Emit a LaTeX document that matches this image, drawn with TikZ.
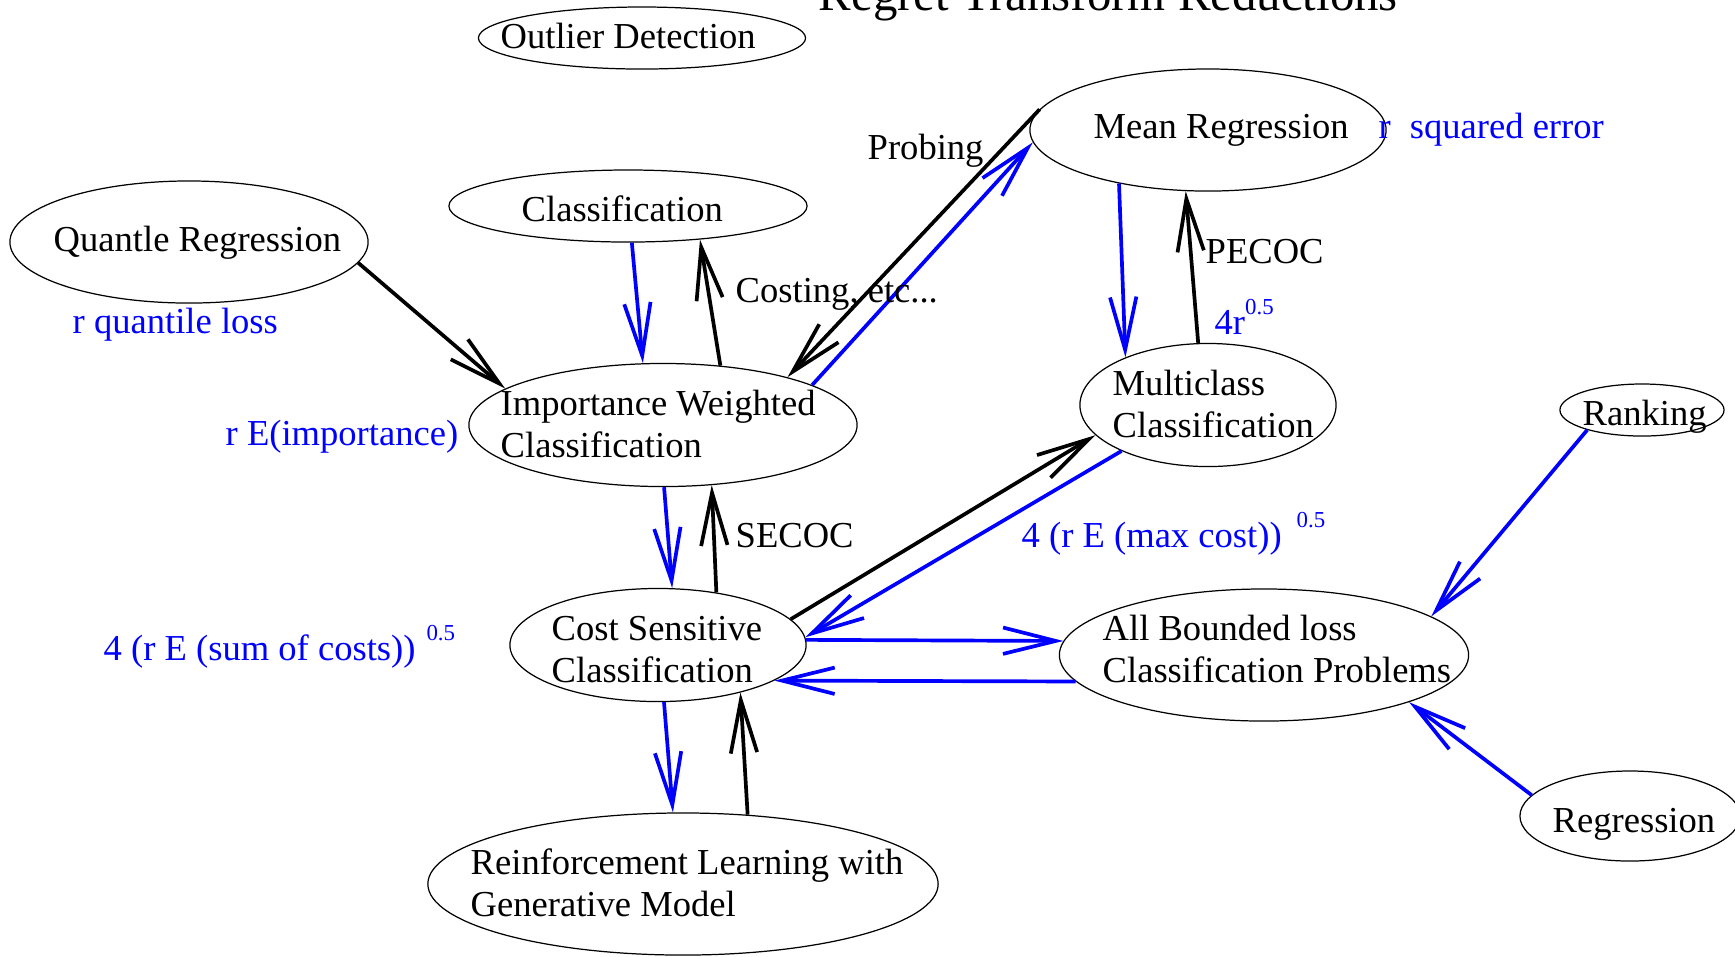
\documentclass[tikz,border=0pt]{standalone}
\usepackage{fontspec}
\setmainfont{Liberation Serif}
\usetikzlibrary{arrows.meta,shapes.geometric}
\newcommand{\pwr}[1]{\raisebox{0.2cm}{\fontsize{6.5}{7}\selectfont #1}}

\begin{document}
\begin{tikzpicture}[x=0.01cm, y=-0.01cm,
	every node/.style={font=\fontsize{10.4}{11.9}\selectfont},
	oval/.style 2 args={draw, ellipse, line width=0.35pt, inner sep=0pt, minimum width=#1cm, minimum height=#2cm},
	txt/.style={anchor=base west, inner sep=0pt, align=left},
	note/.style={txt, text=blue},
	reduce/.style={line width=1.05pt, -{Straight Barb[length=15pt, width=7.5pt]}},
	regret/.style={reduce, draw=blue}]
	\useasboundingbox (0,0) rectangle (1735,956);
	% Problems
	\node[oval={3.27}{0.62}] (outl) at (642,38) {};
	\node[oval={3.56}{1.22}] (meanr) at (1208,130) {};
	\node[oval={3.58}{0.72}] (cls) at (628,206) {};
	\node[oval={3.58}{1.22}] (quant) at (189,242) {};
	\node[oval={3.88}{1.23}] (iwc) at (663,425) {};
	\node[oval={2.56}{1.23}] (mc) at (1208,405) {};
	\node[oval={1.64}{0.52}] (rank) at (1642,410) {};
	\node[oval={2.96}{1.13}] (csc) at (658,645) {};
	\node[oval={4.09}{1.32}] (abl) at (1264,655) {};
	\node[oval={5.10}{1.42}] (rl) at (683,884) {};
	\node[oval={2.20}{0.90}] (regr) at (1630,816) {};
	% Names (two-line names sit on their last line)
	\node[txt, font=\fontsize{13.9}{16}\selectfont] (title) at (818,10) {Regret Transform Reductions};
	\node[txt] (outlT) at (500,48) {Outlier Detection};
	\node[txt] (meanrT) at (1093,138) {Mean Regression};
	\node[txt] (clsT) at (521,221) {Classification};
	\node[txt] (quantT) at (53,251) {Quantle Regression};
	\node[txt] (iwcT) at (500,457) {Importance Weighted\\Classification};
	\node[txt] (mcT) at (1112,437) {Multiclass\\Classification};
	\node[txt] (rankT) at (1582,425) {Ranking};
	\node[txt] (cscT) at (551,682) {Cost Sensitive\\Classification};
	\node[txt] (ablT) at (1102,682) {All Bounded loss\\Classification Problems};
	\node[txt] (rlT) at (470,916) {Reinforcement Learning with\\Generative Model};
	\node[txt] (regrT) at (1552,832) {Regression};
	% Reductions
	\draw[reduce] (quant.-7) -- (iwc.167);
	\draw[regret] (cls.-84) -- (iwc.108);
	\draw[reduce] (iwc.46) -- (cls.-25);
	\draw[reduce] (meanr.173) -- (iwc.21);
	\draw[regret] (iwc.15) -- (meanr.-176);
	\draw[regret] (meanr.-149) -- (mc.150);
	\draw[reduce] (mc.99) -- (meanr.-110);
	\draw[regret] (iwc.-89) -- (csc.76);
	\draw[reduce] (csc.42) -- (iwc.-51);
	\draw[reduce] (csc.11) -- (mc.-165);
	\draw[regret] (mc.-152) -- (csc.3);
	\draw[regret] (csc.2) -- (abl.176);
	\draw[regret] (abl.-172) -- (csc.-17);
	\draw[regret] (csc.-84) -- (rl.98);
	\draw[reduce] (rl.47) -- (csc.-30);
	\draw[regret] (rank.-160) -- (abl.13);
	\draw[regret] (regr.168) -- (abl.-18);
	% Labels
	\node[txt] (costing) at (735,302) {Costing, etc...};
	\node[txt] (probing) at (867,159) {Probing};
	\node[txt] (pecoc) at (1205,263) {PECOC};
	\node[txt] (secoc) at (735,547) {SECOC};
	\node[note] (sqerr) at (1378,138) {r\hspace{0.19cm}squared error};
	\node[note] (qloss) at (72,333) {r quantile loss};
	\node[note] (imp) at (225,445) {r E(importance)};
	\node[note] (pec) at (1214,334) {4r\pwr{0.5}};
	\node[note] (maxc) at (1021,547) {4 (r E (max cost))\hspace{0.15cm}\pwr{0.5}};
	\node[note] (sumc) at (103,660) {4 (r E (sum of costs))\hspace{0.11cm}\pwr{0.5}};
\end{tikzpicture}
\end{document}
